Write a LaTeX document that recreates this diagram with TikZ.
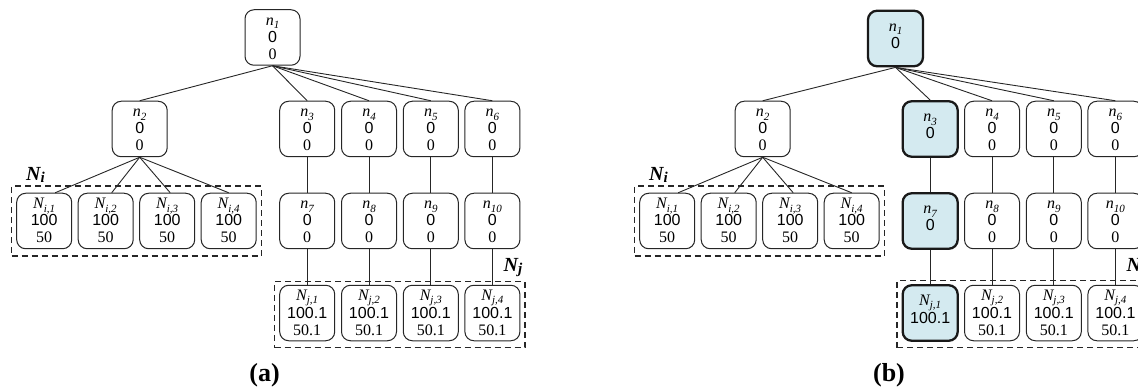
\documentclass[tikz,border=0pt]{standalone}
\usepackage{fontspec}
\setmainfont{Liberation Serif}
\setsansfont{Liberation Sans}
\usetikzlibrary{fit,calc}
\definecolor{hlblue}{HTML}{D4EAF0}
% node label with a lowered, smaller subscript
\newcommand\lbl[2]{\textit{#1\raisebox{-3.5pt}{\fontsize{11}{11}\selectfont #2}}}
% three-line and two-line node contents with fixed top/bottom struts
\newcommand\three[3]{\rule{0pt}{13pt}#1\\\textsf{#2}\\#3\rule[-3.5pt]{0pt}{3.5pt}}
\newcommand\two[2]{\rule{0pt}{13pt}#1\\\textsf{#2}\rule[-10.5pt]{0pt}{10.5pt}}
\newcommand\tagsub[1]{\raisebox{-2pt}{\fontsize{15}{15}\selectfont #1}}
\begin{document}
\begin{tikzpicture}[x=1pt,y=-1pt,
  nd/.style={draw=black!85, line width=1pt, rounded corners=9pt,
    minimum width=55pt, minimum height=55.5pt, inner sep=0pt, align=center,
    fill=white, font=\fontsize{16}{17}\selectfont},
  hl/.style={nd, fill=hlblue, draw=black!90, line width=2.3pt},
  ed/.style={draw=black!85, line width=0.9pt},
  grp/.style={draw=black!85, line width=1.2pt, dash pattern=on 6pt off 4pt, inner xsep=4.5pt},
  tag/.style={inner sep=0pt, font=\fontsize{20}{20}\selectfont\bfseries\itshape},
  captxt/.style={inner sep=0pt, font=\fontsize{26}{26}\selectfont\bfseries}]

\useasboundingbox (0,0) rectangle (1138,390);
\clip (0,0) rectangle (1138,390);

% ---------- panel (a) ----------
\begin{scope}[name prefix=a-]
  \node[nd] (n1) at (272.5,37.5) {\three{\lbl{n}{1}}{0}{0}};
  \node[nd] (n2) at (139.7,129) {\three{\lbl{n}{2}}{0}{0}};
  \node[nd] (n3) at (307.2,129) {\three{\lbl{n}{3}}{0}{0}};
  \node[nd] (n4) at (369,129)   {\three{\lbl{n}{4}}{0}{0}};
  \node[nd] (n5) at (430.8,129) {\three{\lbl{n}{5}}{0}{0}};
  \node[nd] (n6) at (492.4,129) {\three{\lbl{n}{6}}{0}{0}};
  \node[nd] (n7) at (307.2,221) {\three{\lbl{n}{7}}{0}{0}};
  \node[nd] (n8) at (369,221)   {\three{\lbl{n}{8}}{0}{0}};
  \node[nd] (n9) at (430.8,221) {\three{\lbl{n}{9}}{0}{0}};
  \node[nd] (n10) at (492.4,221) {\three{\lbl{n}{10}}{0}{0}};
  \foreach \k/\x in {1/44.2,2/105.7,3/167.2,4/228.7}
    \node[nd] (Ni\k) at (\x,221) {\three{\lbl{N}{i,\k}}{100}{50}};
  \foreach \k/\x in {1/307.2,2/369,3/430.8,4/492.4}
    \node[nd] (Nj\k) at (\x,313) {\three{\lbl{N}{j,\k}}{100.1}{50.1}};

  \foreach \c in {2,...,6} \draw[ed] (n1.south) -- (n\c.north);
  \foreach \k/\s in {1/11,2/6,3/3,4/0} \draw[ed] (n2.south) -- ([xshift=\s pt]Ni\k.north);
  \foreach \p/\q in {3/7,4/8,5/9,6/10} \draw[ed] (n\p) -- (n\q);
  \foreach \p/\q in {7/1,8/2,9/3,10/4} \draw[ed] (n\p) -- (Nj\q);

  \node[grp, fit=(Ni1)(Ni4), inner ysep=6.8pt] (Gi) {};
  \coordinate (jb) at ($(Nj4.south)+(0,3)$);
  \node[grp, fit=(Nj1)(Nj4)(jb), inner ysep=3.3pt] (Gj) {};

  \node[tag, anchor=base west] (Li) at (26,180.5) {N\tagsub{i}};
  \node[tag, anchor=base east] (Lj) at (522.5,271.5) {N\tagsub{j}};
  \node[captxt, anchor=base] (ca) at (264.5,381) {(a)};
\end{scope}

% ---------- panel (b) ----------
\begin{scope}[name prefix=b-, xshift=623pt]
  \node[hl] (n1) at (272.5,38.5) {\two{\lbl{n}{1}}{0}};
  \node[nd] (n2) at (139.7,129) {\three{\lbl{n}{2}}{0}{0}};
  \node[hl] (n3) at (307.2,129) {\two{\lbl{n}{3}}{0}};
  \node[nd] (n4) at (369,129)   {\three{\lbl{n}{4}}{0}{0}};
  \node[nd] (n5) at (430.8,129) {\three{\lbl{n}{5}}{0}{0}};
  \node[nd] (n6) at (492.4,129) {\three{\lbl{n}{6}}{0}{0}};
  \node[hl] (n7) at (307.2,221) {\two{\lbl{n}{7}}{0}};
  \node[nd] (n8) at (369,221)   {\three{\lbl{n}{8}}{0}{0}};
  \node[nd] (n9) at (430.8,221) {\three{\lbl{n}{9}}{0}{0}};
  \node[nd] (n10) at (492.4,221) {\three{\lbl{n}{10}}{0}{0}};
  \foreach \k/\x in {1/44.2,2/105.7,3/167.2,4/228.7}
    \node[nd] (Ni\k) at (\x,221) {\three{\lbl{N}{i,\k}}{100}{50}};
  \node[hl] (Nj1) at (307.2,313) {\two{\lbl{N}{j,1}}{100.1}};
  \foreach \k/\x in {2/369,3/430.8,4/492.4}
    \node[nd] (Nj\k) at (\x,313) {\three{\lbl{N}{j,\k}}{100.1}{50.1}};

  \foreach \c in {2,...,6} \draw[ed] (n1.south) -- (n\c.north);
  \foreach \k/\s in {1/11,2/6,3/3,4/0} \draw[ed] (n2.south) -- ([xshift=\s pt]Ni\k.north);
  \foreach \p/\q in {3/7,4/8,5/9,6/10} \draw[ed] (n\p) -- (n\q);
  \foreach \p/\q in {7/1,8/2,9/3,10/4} \draw[ed] (n\p) -- (Nj\q);

  \node[grp, fit=(Ni1)(Ni4), inner ysep=6.8pt] (Gi) {};
  \coordinate (jb) at ($(Nj4.south)+(0,3)$);
  \node[grp, fit=(Nj1)(Nj4)(jb), inner ysep=3.3pt] (Gj) {};

  \node[tag, anchor=base west] (Li) at (26,180.5) {N\tagsub{i}};
  \node[tag, anchor=base east] (Lj) at (522.5,271.5) {N\tagsub{j}};
  \node[captxt, anchor=base] (cb) at (266,381) {(b)};
\end{scope}
\end{tikzpicture}
\end{document}
